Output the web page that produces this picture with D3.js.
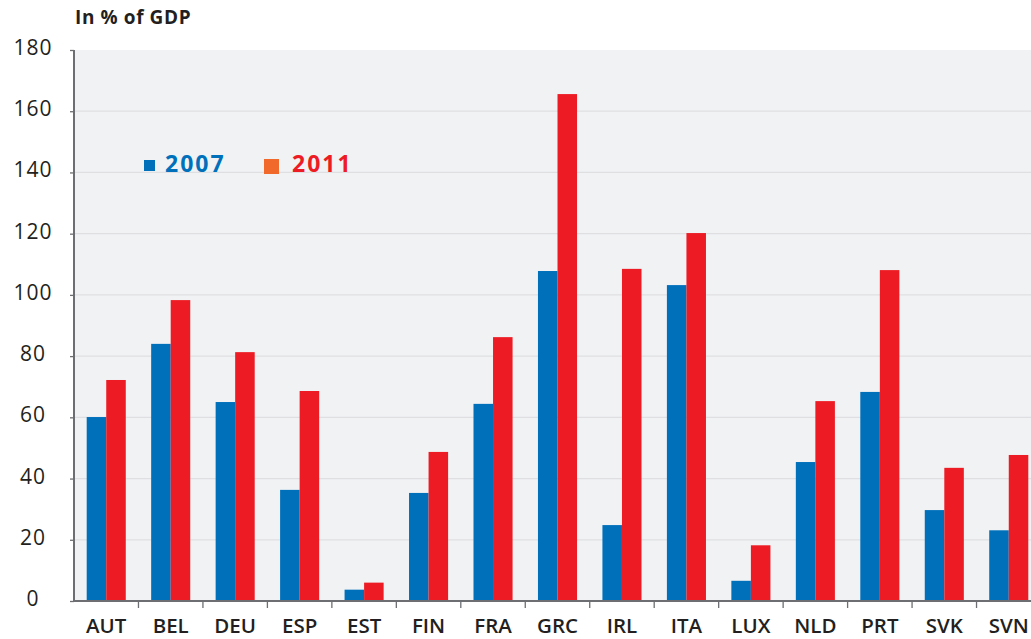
<!DOCTYPE html>
<html>
<head>
<meta charset="utf-8">
<script src="https://cdn.jsdelivr.net/npm/d3@7"></script>
<style>
  body { margin: 0; background: #fff; }
  svg { display: block; font-family: "Open Sans", "Noto Sans", sans-serif; }
  .ytick { font-size: 21px; fill: #231f20; letter-spacing: 1px; }
  .xtick { font-size: 20.5px; font-weight: 600; fill: #231f20; }
  .title { font-size: 19px; font-weight: 700; fill: #231f20; letter-spacing: 0.6px; }
  .legend { font-size: 23px; font-weight: 700; letter-spacing: 2px; }
</style>
</head>
<body>
<svg id="chart" width="1031" height="639"></svg>
<script>
const countries = ['AUT', 'BEL', 'DEU', 'ESP', 'EST', 'FIN', 'FRA', 'GRC', 'IRL', 'ITA', 'LUX', 'NLD', 'PRT', 'SVK', 'SVN'];
const debt2007 = [60.1, 84.0, 65.0, 36.3, 3.7, 35.3, 64.4, 107.8, 24.8, 103.2, 6.6, 45.4, 68.3, 29.7, 23.1];
const debt2011 = [72.2, 98.3, 81.3, 68.6, 6.0, 48.7, 86.2, 165.6, 108.5, 120.2, 18.2, 65.3, 108.1, 43.5, 47.7];
const yTicks = [0, 20, 40, 60, 80, 100, 120, 140, 160, 180];
const seriesNames = ['2007', '2011'];

const svg = d3.select('#chart');
const margin = { top: 50, left: 74, bottom: 601 };
const plotRight = 1041;

const x = d3.scaleBand().domain(countries).range([margin.left, plotRight]).padding(0);
const xInner = d3.scaleBand().domain(seriesNames).range([0, x.bandwidth()]).paddingInner(0).paddingOuter(0.65);
const y = d3.scaleLinear().domain([0, 180]).range([margin.bottom, margin.top]);

// plot background
svg.append('rect')
  .attr('x', margin.left).attr('y', margin.top)
  .attr('width', plotRight - margin.left).attr('height', margin.bottom - margin.top)
  .attr('fill', '#f1f2f4');

// gridlines
svg.append('g').selectAll('line')
  .data(yTicks.filter(d => d > 0 && d < 180))
  .enter().append('line')
  .attr('x1', margin.left).attr('x2', plotRight)
  .attr('y1', d => y(d)).attr('y2', d => y(d))
  .attr('stroke', '#dfdfe2').attr('stroke-width', 1.3);

// bars
const rows = countries.map((c, i) => ({ c, v: [debt2007[i], debt2011[i]] }));
const colors = ['#0070bb', '#ed1c24'];
rows.forEach(r => {
  seriesNames.forEach((s, j) => {
    svg.append('rect')
      .attr('x', x(r.c) + xInner(s))
      .attr('y', y(r.v[j]))
      .attr('width', xInner.bandwidth())
      .attr('height', y(0) - y(r.v[j]))
      .attr('fill', colors[j]);
  });
});

// y axis
const yAxis = svg.append('g').attr('transform', `translate(${margin.left},0)`)
  .call(d3.axisLeft(y).tickValues(yTicks).tickSize(4).tickFormat(''));
yAxis.select('.domain').attr('stroke', '#6d6e71').attr('stroke-width', 2).attr('d', `M0,${margin.top}V${margin.bottom}`);
yAxis.selectAll('.tick line').attr('stroke', '#6d6e71').attr('stroke-width', 1.3);

svg.append('g').selectAll('text')
  .data(yTicks)
  .enter().append('text')
  .attr('class', 'ytick')
  .attr('x', 33)
  .attr('y', d => y(d) + 5)
  .attr('text-anchor', 'middle')
  .text(d => d);

// x axis
const xAxis = svg.append('g').attr('transform', `translate(0,${margin.bottom})`);
xAxis.append('line')
  .attr('x1', margin.left).attr('x2', plotRight)
  .attr('stroke', '#6d6e71').attr('stroke-width', 2);
xAxis.selectAll('.xt')
  .data(countries.slice(1))
  .enter().append('line')
  .attr('x1', d => x(d)).attr('x2', d => x(d))
  .attr('y1', 0).attr('y2', 7)
  .attr('stroke', '#6d6e71').attr('stroke-width', 1.3);
xAxis.selectAll('text')
  .data(countries)
  .enter().append('text')
  .attr('class', 'xtick')
  .attr('x', d => x(d) + x.bandwidth() / 2)
  .attr('y', 32)
  .attr('text-anchor', 'middle')
  .text(d => d);

// title
svg.append('text').attr('class', 'title').attr('x', 75).attr('y', 24).text('In % of GDP');

// legend
svg.append('rect').attr('x', 144).attr('y', 160).attr('width', 11).attr('height', 11).attr('fill', '#0070bb');
svg.append('text').attr('class', 'legend').attr('x', 165).attr('y', 172).attr('fill', '#0070bb').text(seriesNames[0]);
svg.append('rect').attr('x', 264).attr('y', 159).attr('width', 15).attr('height', 15).attr('fill', '#f26a2b');
svg.append('text').attr('class', 'legend').attr('x', 292).attr('y', 172).attr('fill', '#ed1c24').text(seriesNames[1]);
</script>
</body>
</html>
